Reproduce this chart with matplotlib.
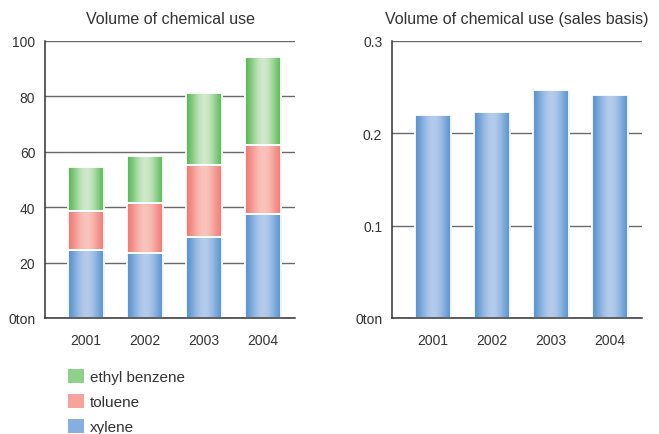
import numpy as np
import matplotlib.pyplot as plt
from matplotlib.colors import to_rgb
from matplotlib.patches import Patch

plt.rcParams['font.family'] = ['Liberation Sans', 'DejaVu Sans']

years = ["2001", "2002", "2003", "2004"]
xylene = [24.5, 23.6, 29.4, 37.5]
toluene = [14.0, 18.0, 25.8, 24.8]
ethyl_benzene = [15.9, 17.0, 26.0, 31.9]
sales_basis = [0.220, 0.2235, 0.247, 0.2415]

left_ticks = [0, 20, 40, 60, 80, 100]
left_labels = ["0ton", "20", "40", "60", "80", "100"]
right_ticks = [0, 0.1, 0.2, 0.3]
right_labels = ["0ton", "0.1", "0.2", "0.3"]

# (edge colour, centre colour) for the cylinder-like shading
BLUE = ("#5a94d1", "#b4cbeb")
RED = ("#f07b75", "#f9c3bb")
GREEN = ("#5cba58", "#cfe9ca")

TEXT = "#333333"


def shade(edge, centre, n=64):
    t = np.linspace(-1, 1, n)
    w = np.cos(t * np.pi / 2) ** 1.5
    e, c = np.array(to_rgb(edge)), np.array(to_rgb(centre))
    return (e[None, :] * (1 - w[:, None]) + c[None, :] * w[:, None])[None, :, :]


def gradient_bars(ax, x, heights, bottom, colors):
    bars = ax.bar(x, heights, 0.61, bottom=bottom, facecolor='none',
                  edgecolor='white', linewidth=1.3, zorder=3)
    img = shade(*colors)
    for b in bars:
        x0, y0 = b.get_x(), b.get_y()
        im = ax.imshow(img, extent=(x0, x0 + b.get_width(), y0, y0 + b.get_height()),
                       aspect='auto', interpolation='bicubic', zorder=2)
        im.set_clip_path(b)
    return bars


def style_axes(ax, ticks, labels, title):
    ax.set_xlim(-0.695, 3.54)
    ax.set_ylim(0, ticks[-1])
    ax.set_yticks(ticks)
    ax.set_yticklabels(labels)
    ax.set_xticks(range(len(years)))
    ax.set_xticklabels(years)
    ax.tick_params(length=0, labelsize=10, labelcolor=TEXT)
    ax.tick_params(axis='x', pad=11)
    ax.tick_params(axis='y', pad=7)
    ax.yaxis.grid(True, color="#6a6a6a", linewidth=1)
    ax.set_axisbelow(True)
    for s in ("top", "right"):
        ax.spines[s].set_visible(False)
    for s in ("left", "bottom"):
        ax.spines[s].set_color("#333333")
        ax.spines[s].set_linewidth(1.1)
        ax.spines[s].set_zorder(4)
    ax.set_title(title, fontsize=11.5, color=TEXT, pad=13)


fig = plt.figure(figsize=(6.59, 4.35), dpi=100)
ax1 = fig.add_axes([0.0683, 0.2667, 0.3794, 0.6368])
ax2 = fig.add_axes([0.5948, 0.2667, 0.3794, 0.6368])

x = np.arange(len(years))
xy = np.array(xylene)
to = np.array(toluene)
gradient_bars(ax1, x, xy, 0, BLUE)
gradient_bars(ax1, x, to, xy, RED)
gradient_bars(ax1, x, ethyl_benzene, xy + to, GREEN)
style_axes(ax1, left_ticks, left_labels, "Volume of chemical use")

gradient_bars(ax2, x, sales_basis, 0, BLUE)
style_axes(ax2, right_ticks, right_labels, "Volume of chemical use (sales basis)")

handles = [Patch(facecolor="#8fd08a", edgecolor='none'),
           Patch(facecolor="#f5a39c", edgecolor='none'),
           Patch(facecolor="#86afe0", edgecolor='none')]
fig.legend(handles, ["ethyl benzene", "toluene", "xylene"],
           loc='upper left', bbox_to_anchor=(0.1032, 0.1494), frameon=False,
           fontsize=11, handlelength=1.05, handleheight=1.0, handletextpad=0.4,
           labelspacing=0.65, borderpad=0, borderaxespad=0, labelcolor=TEXT)

fig.savefig("out.png", dpi=100)
